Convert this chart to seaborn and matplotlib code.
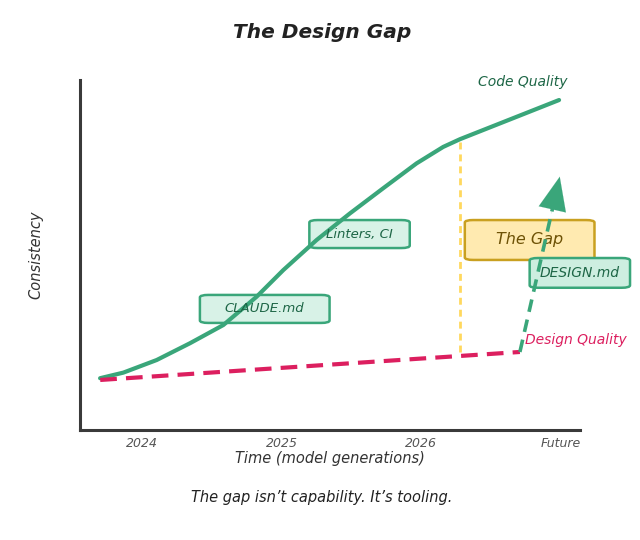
import matplotlib
matplotlib.use("Agg")
import matplotlib.pyplot as plt
from matplotlib.patches import FancyBboxPatch
import seaborn as sns
import pandas as pd

# x: 0 = 2024, 1 = 2025, 2 = 2026, 3 = Future
tick_pos = [0, 1, 2, 3]
tick_labels = ["2024", "2025", "2026", "Future"]

code_x = [-0.301, -0.134, 0.105, 0.344, 0.583, 0.822, 1.013, 1.252,
          1.491, 1.730, 1.969, 2.160, 2.280, 2.991]
code_y = [14.8, 16.4, 20.0, 24.8, 30.0, 38.1, 45.7, 54.3,
          61.9, 69.1, 76.2, 80.9, 83.1, 94.3]

design_x = [-0.30, 2.71]
design_y = [14.3, 22.3]

# DESIGN.md jump
jump_x = [2.71, 2.996]
jump_y = [22.3, 72.4]

gap_x = 2.28
gap_y = [22.3, 83.1]

GREEN = "#3aa67a"
DARK_GREEN = "#1d6646"
CRIMSON = "#dc1f5f"
YELLOW = "#ffd85e"

sns.set_style("white")
plt.rcParams["font.family"] = ["DejaVu Sans"]
plt.rcParams["font.style"] = "italic"

fig = plt.figure(figsize=(6.4, 5.4), dpi=100)
ax = fig.add_axes([0.125, 0.2037, 0.781, 0.648])

df_code = pd.DataFrame({"x": code_x, "y": code_y})
df_design = pd.DataFrame({"x": design_x, "y": design_y})

sns.lineplot(data=df_code, x="x", y="y", color=GREEN, lw=3, ax=ax, zorder=3)
sns.lineplot(data=df_design, x="x", y="y", color=CRIMSON, lw=3, ax=ax, zorder=3)
ax.lines[-1].set_dashes([4, 2.2])
ax.lines[0].set_solid_joinstyle("round")

ax.plot([gap_x, gap_x], gap_y, color=YELLOW, lw=2, dashes=[2.5, 1.8], zorder=2)

# jump arrow: dashed shaft, solid head (drawn over the boxes)
fr_shaft, fr_head = 0.84, 0.79
ax.plot([jump_x[0], jump_x[0] + (jump_x[1] - jump_x[0]) * fr_shaft],
        [jump_y[0], jump_y[0] + (jump_y[1] - jump_y[0]) * fr_shaft],
        color=GREEN, lw=2.6, dashes=[3.5, 2.2], zorder=9)
ax.annotate("", xy=(jump_x[1], jump_y[1]),
            xytext=(jump_x[0] + (jump_x[1] - jump_x[0]) * fr_head,
                    jump_y[0] + (jump_y[1] - jump_y[0]) * fr_head),
            arrowprops=dict(arrowstyle="-|>,head_width=0.5,head_length=1.2",
                            mutation_scale=20, color=GREEN, lw=0.1,
                            shrinkA=0, shrinkB=0), zorder=9)


def box(cx, cy, w, h, text, fc, ec, tc, size, z=2):
    p = FancyBboxPatch((cx - w / 2, cy - h / 2), w, h,
                       boxstyle="round,pad=0,rounding_size=0.06",
                       mutation_aspect=12, fc=fc, ec=ec, lw=1.8, zorder=z,
                       clip_on=False)
    ax.add_patch(p)
    ax.text(cx, cy, text, ha="center", va="center", color=tc,
            fontsize=size, zorder=max(z + 0.5, 4), clip_on=False)


# the growth curve runs over these two boxes
box(0.88, 34.6, 0.93, 8.0, "CLAUDE.md", "#d8f2e7", GREEN, DARK_GREEN, 9.5)
box(1.56, 56.0, 0.72, 8.0, "Linters, CI", "#d8f2e7", GREEN, DARK_GREEN, 9.5)
box(2.78, 54.3, 0.93, 11.4, "The Gap", "#ffeab0", "#c9a020", "#6e5206", 11.5, z=5)
box(3.14, 44.9, 0.72, 8.5, "DESIGN.md", "#cdeee0", GREEN, DARK_GREEN, 10, z=7)

ax.text(2.73, 99.4, "Code Quality", color=DARK_GREEN, fontsize=10,
        ha="center", va="center", clip_on=False)
ax.text(3.11, 25.7, "Design Quality", color=CRIMSON, fontsize=10,
        ha="center", va="center", clip_on=False)

ax.set_xlim(-0.445, 3.14)
ax.set_ylim(0, 100)
ax.set_xticks(tick_pos)
ax.set_xticklabels(tick_labels, color="#555555", fontsize=9)
ax.set_yticks([])
ax.tick_params(axis="x", length=0, pad=5)
ax.set_xlabel("Time (model generations)", fontsize=10.5, color="#333333", labelpad=1)
ax.set_ylabel("Consistency", fontsize=10.5, color="#333333", labelpad=26)
sns.despine(ax=ax)
for s in ["left", "bottom"]:
    ax.spines[s].set_color("#3a3a3a")
    ax.spines[s].set_linewidth(2.2)

fig.text(0.503, 0.94, "The Design Gap", ha="center", va="center",
         fontsize=14.5, weight="bold", color="#222222")
fig.text(0.503, 0.078, "The gap isn\u2019t capability. It\u2019s tooling.",
         ha="center", va="center", fontsize=10.5, color="#222222")

fig.savefig("out.png", dpi=100, facecolor="white")
